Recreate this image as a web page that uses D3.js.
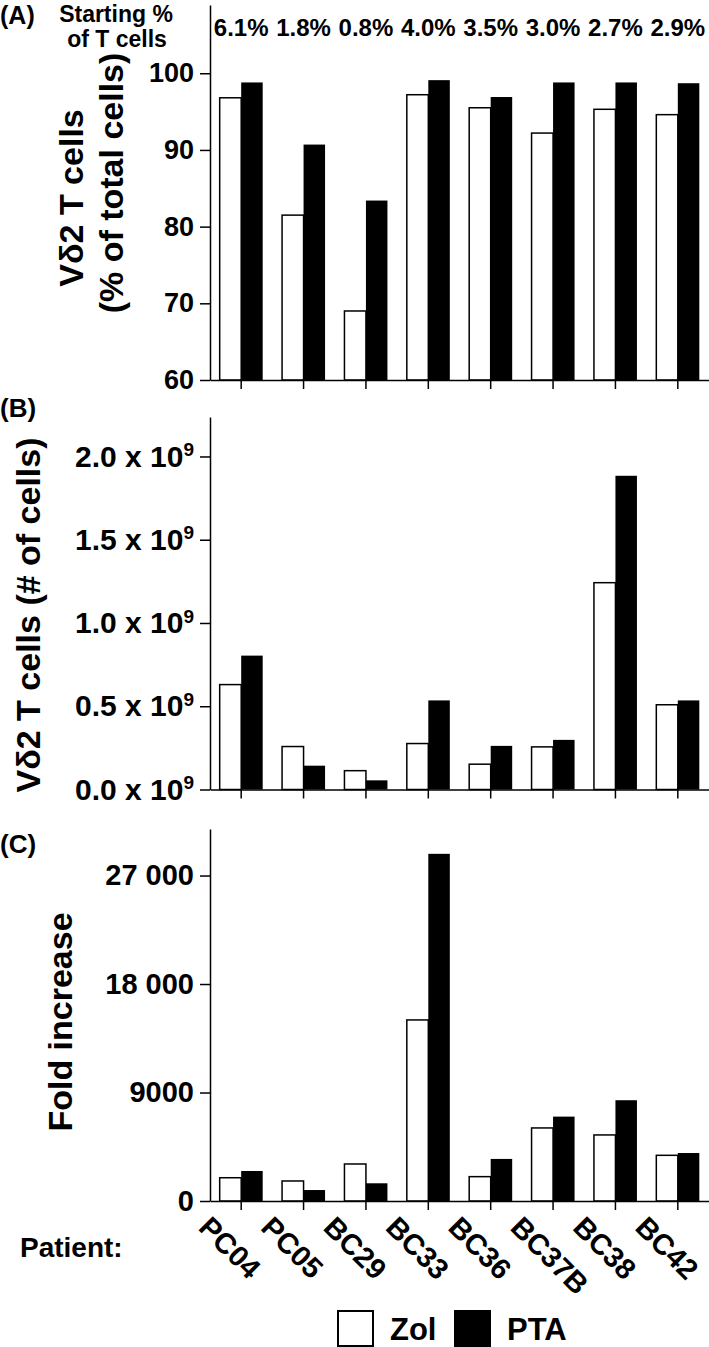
<!DOCTYPE html>
<html lang="en">
<head>
<meta charset="UTF-8">
<title>Vd2 T cell expansion</title>
<script src="https://d3js.org/d3.v7.min.js"></script>
<style>
  body { margin: 0; background: #fff; }
  svg { display: block; font-family: "Liberation Sans", Arial, sans-serif; font-weight: bold; }
  .axis path, .axis line { stroke: #000; stroke-width: 1.5; }
  .axis text { fill: #000; font-family: "Liberation Sans", Arial, sans-serif; font-weight: bold; }
</style>
</head>
<body>
<script>
const patients = ['PC04', 'PC05', 'BC29', 'BC33', 'BC36', 'BC37B', 'BC38', 'BC42'];
const startPct = ['6.1%', '1.8%', '0.8%', '4.0%', '3.5%', '3.0%', '2.7%', '2.9%'];

// (A) % of total cells
const pctZol = [96.8, 81.5, 69.0, 97.2, 95.5, 92.2, 95.3, 94.6];
const pctPTA = [98.8, 90.7, 83.4, 99.1, 96.9, 98.8, 98.8, 98.7];
const pctTicks = [60, 70, 80, 90, 100];

// (B) number of cells
const numZol = [0.63e9, 0.258e9, 0.113e9, 0.276e9, 0.152e9, 0.256e9, 1.242e9, 0.509e9];
const numPTA = [0.804e9, 0.143e9, 0.055e9, 0.535e9, 0.262e9, 0.298e9, 1.884e9, 0.535e9];
const numTicks = [0, 0.5e9, 1.0e9, 1.5e9, 2.0e9];

// (C) fold increase
const foldZol = [1930, 1660, 3070, 15020, 2020, 6060, 5480, 3790];
const foldPTA = [2490, 910, 1470, 28800, 3490, 7000, 8360, 3980];
const foldTicks = [0, 9000, 18000, 27000];
const foldLabels = ['0', '9000', '18 000', '27 000'];

const width = 709, height = 1347;
const left = 210, right = 709;

const svg = d3.select('body').append('svg')
    .attr('width', width)
    .attr('height', height);

const x0 = d3.scaleBand().domain(patients).range([left, right]);
const x1 = d3.scaleBand().domain(['Zol', 'PTA']).range([-21.5, 21.5]);
const center = p => x0(p) + x0.bandwidth() / 2;

function drawPanel(y, zol, pta, ticks, fmt, fontSize) {
    const g = svg.append('g');
    const base = y(y.domain()[0]);
    const rows = patients.map((p, i) => ({p: p, zol: zol[i], pta: pta[i]}));

    g.selectAll('.zol').data(rows).join('rect')
        .attr('class', 'zol')
        .attr('x', d => center(d.p) + x1('Zol'))
        .attr('y', d => y(d.zol))
        .attr('width', x1.bandwidth())
        .attr('height', d => base - y(d.zol))
        .attr('fill', '#fff')
        .attr('stroke', '#000')
        .attr('stroke-width', 1.5);

    g.selectAll('.pta').data(rows).join('rect')
        .attr('class', 'pta')
        .attr('x', d => center(d.p) + x1('PTA'))
        .attr('y', d => y(d.pta))
        .attr('width', x1.bandwidth())
        .attr('height', d => base - y(d.pta))
        .attr('fill', '#000');

    g.append('g').attr('class', 'axis')
        .attr('transform', `translate(0,${base})`)
        .call(d3.axisBottom(x0).tickSize(9).tickSizeOuter(0).tickFormat(''));

    const ya = g.append('g').attr('class', 'axis')
        .attr('transform', `translate(${left},0)`)
        .call(d3.axisLeft(y).tickValues(ticks).tickSize(10).tickSizeOuter(0).tickPadding(6).tickFormat(fmt));
    ya.selectAll('text').style('font-size', fontSize + 'px');
    return ya;
}

// panel A
const yA = d3.scaleLinear().domain([60, 108.9]).range([380, 5]);
drawPanel(yA, pctZol, pctPTA, pctTicks, d3.format('d'), 27);

// panel B
const yB = d3.scaleLinear().domain([0, 2.237e9]).range([789.5, 417]);
const axB = drawPanel(yB, numZol, numPTA, numTicks, d => (d / 1e9).toFixed(1) + ' x 10', 30);
axB.selectAll('.tick text').append('tspan')
    .attr('dy', '-0.55em')
    .style('font-size', '19px')
    .text('9');

// panel C
const yC = d3.scaleLinear().domain([0, 30860]).range([1201, 829]);
drawPanel(yC, foldZol, foldPTA, foldTicks, (d, i) => foldLabels[i], 29);

// header row of panel A
svg.append('text').attr('x', 0).attr('y', 24).style('font-size', '25px').text('(A)');
svg.append('text').attr('x', 116).attr('y', 22).attr('text-anchor', 'middle').style('font-size', '23px').text('Starting %');
svg.append('text').attr('x', 117).attr('y', 47).attr('text-anchor', 'middle').style('font-size', '23px').text('of T cells');
svg.selectAll('.pct').data(patients).join('text')
    .attr('class', 'pct')
    .attr('x', p => center(p))
    .attr('y', 36)
    .attr('text-anchor', 'middle')
    .style('font-size', '24px')
    .text((p, i) => startPct[i]);

svg.append('text').attr('x', 0).attr('y', 417).style('font-size', '26px').text('(B)');
svg.append('text').attr('x', 0).attr('y', 853).style('font-size', '26px').text('(C)');

// y titles
function yTitle(x, y, txt, size) {
    svg.append('text')
        .attr('transform', `translate(${x},${y}) rotate(-90)`)
        .attr('text-anchor', 'middle')
        .style('font-size', size + 'px')
        .text(txt);
}
yTitle(83, 198, 'V\u03b42 T cells', 34);
yTitle(123, 183, '(% of total cells)', 34);
yTitle(40, 615, 'V\u03b42 T cells (# of cells)', 34);
yTitle(72, 1022, 'Fold increase', 34);

// patient labels
svg.append('text').attr('x', 20).attr('y', 1257).style('font-size', '28px').text('Patient:');
svg.selectAll('.xlab').data(patients).join('text')
    .attr('class', 'xlab')
    .attr('transform', p => `translate(${center(p) - 44},${1229}) rotate(45)`)
    .style('font-size', '29px')
    .text(p => p);

// legend
const legend = [{name: 'Zol', fill: '#fff', x: 338}, {name: 'PTA', fill: '#000', x: 455}];
const lg = svg.selectAll('.lg').data(legend).join('g').attr('class', 'lg');
lg.append('rect')
    .attr('x', d => d.x).attr('y', 1311)
    .attr('width', 35).attr('height', 35)
    .attr('fill', d => d.fill)
    .attr('stroke', '#000').attr('stroke-width', 2);
lg.append('text')
    .attr('x', d => d.x + 52).attr('y', 1340)
    .style('font-size', '31px')
    .text(d => d.name);
</script>
</body>
</html>
